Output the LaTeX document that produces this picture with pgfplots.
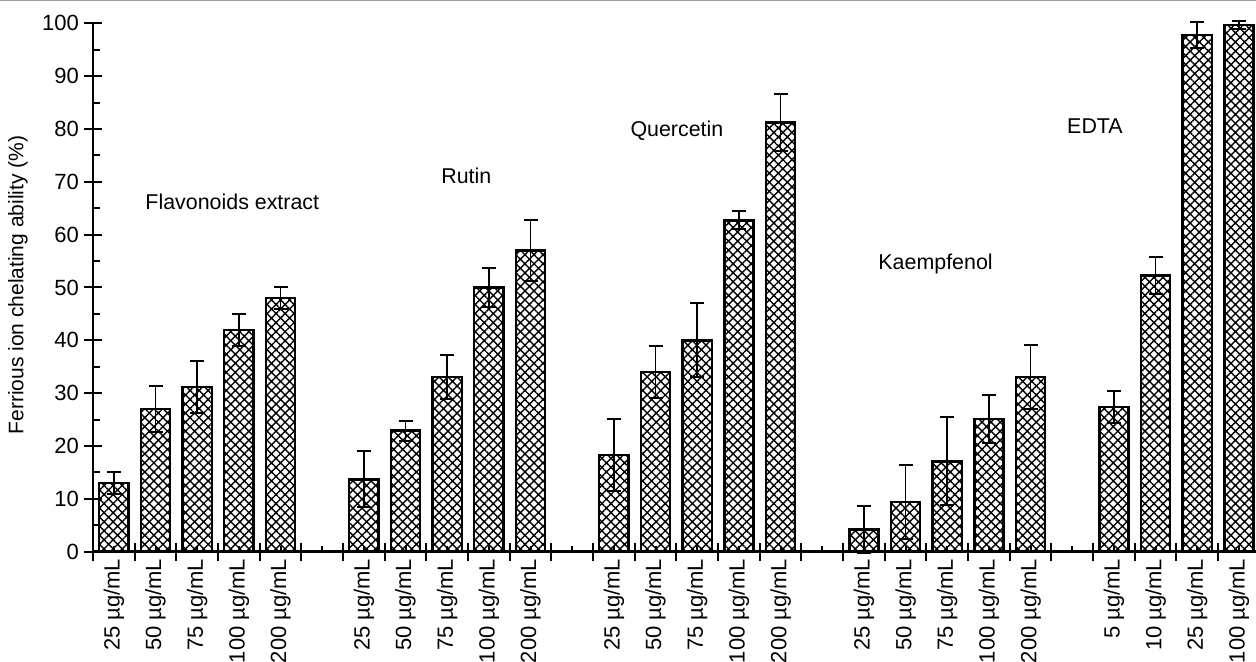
\documentclass[border=0pt]{standalone}
\usepackage{fontspec}
\setmainfont{Liberation Sans}
\usepackage{pgfplots}
\usepackage{pgfplotstable}
\pgfplotsset{compat=1.18}
\usetikzlibrary{patterns.meta}

\pgfplotstableread{
x y e
0 13.0 2.1
1 27.0 4.4
2 31.2 4.9
3 42.0 3.0
4 48.0 2.1
6 13.7 5.3
7 22.9 1.9
8 33.1 4.2
9 50.0 3.6
10 57.0 5.7
12 18.3 6.8
13 34.0 4.9
14 40.0 7.0
15 62.7 1.7
16 81.2 5.4
18 4.2 4.4
19 9.4 7.0
20 17.1 8.3
21 25.1 4.6
22 33.1 6.1
24 27.4 3.0
25 52.3 3.5
26 97.8 2.4
27 99.7 0.8
}\datatable

\begin{document}
\begin{tikzpicture}[x=1pt,y=1pt]
\path[use as bounding box] (0,0) rectangle (628,331);
\draw[gray!75, line width=0.7pt] (0,330.6) -- (628,330.6);
\begin{axis}[
  at={(46.5pt,55.15pt)}, anchor=south west,
  scale only axis, width=581.5pt, height=264.2pt,
  xmin=-0.5, xmax=27.41, ymin=0, ymax=100,
  clip=false,
  axis lines*=left,
  axis line style={line width=1.3pt, black},
  font=\fontsize{11}{13}\selectfont,
  /pgf/number format/assume math mode=true,
  ytick={0,10,...,100},
  tick align=center,
  major tick length=9pt,
  tick style={line width=1pt, black},
  y tick label style={xshift=1pt},
  extra y ticks={5,15,...,95},
  extra y tick labels={},
  extra y tick style={tick align=inside, major tick length=3.5pt},
  xtick={-0.5,0.5,...,26.5},
  xticklabels={},
  extra x ticks={0,1,...,27},
  extra x tick labels={25 µg/mL,50 µg/mL,75 µg/mL,100 µg/mL,200 µg/mL,,25 µg/mL,50 µg/mL,75 µg/mL,100 µg/mL,200 µg/mL,,25 µg/mL,50 µg/mL,75 µg/mL,100 µg/mL,200 µg/mL,,25 µg/mL,50 µg/mL,75 µg/mL,100 µg/mL,200 µg/mL,,5 µg/mL,10 µg/mL,25 µg/mL,100 µg/mL},
  extra x tick style={tick align=inside, major tick length=3pt,
     tick label style={rotate=90, anchor=east, font=\fontsize{11}{13}\selectfont}},
]
\addplot[ybar, bar width=0.7, bar shift=0pt, draw=black, line width=1.2pt,
   pattern={Hatch[angle=45,distance=3.2pt,line width=0.7pt]},
   error bars/.cd, y dir=both, y explicit,
   error bar style={line width=0.8pt, black},
   error mark options={rotate=90, mark size=3.5pt, line width=1pt, black}]
   table[x=x, y=y, y error=e] {\datatable};
\begin{scope}[every node/.style={anchor=west, inner sep=0pt, font=\fontsize{10.7}{13}\selectfont}]
\node at (axis cs:0.75,66.3) {Flavonoids extract};
\node at (axis cs:7.85,71.1) {Rutin};
\node at (axis cs:12.39,79.6) {Quercetin};
\node at (axis cs:18.34,54.4) {Kaempfenol};
\node at (axis cs:22.87,80.6) {EDTA};
\end{scope}
\end{axis}
\node[rotate=90, font=\fontsize{10.5}{12}\selectfont] at (9pt,188.5pt) {Ferrious ion chelating ability (\%)};
\end{tikzpicture}
\end{document}
